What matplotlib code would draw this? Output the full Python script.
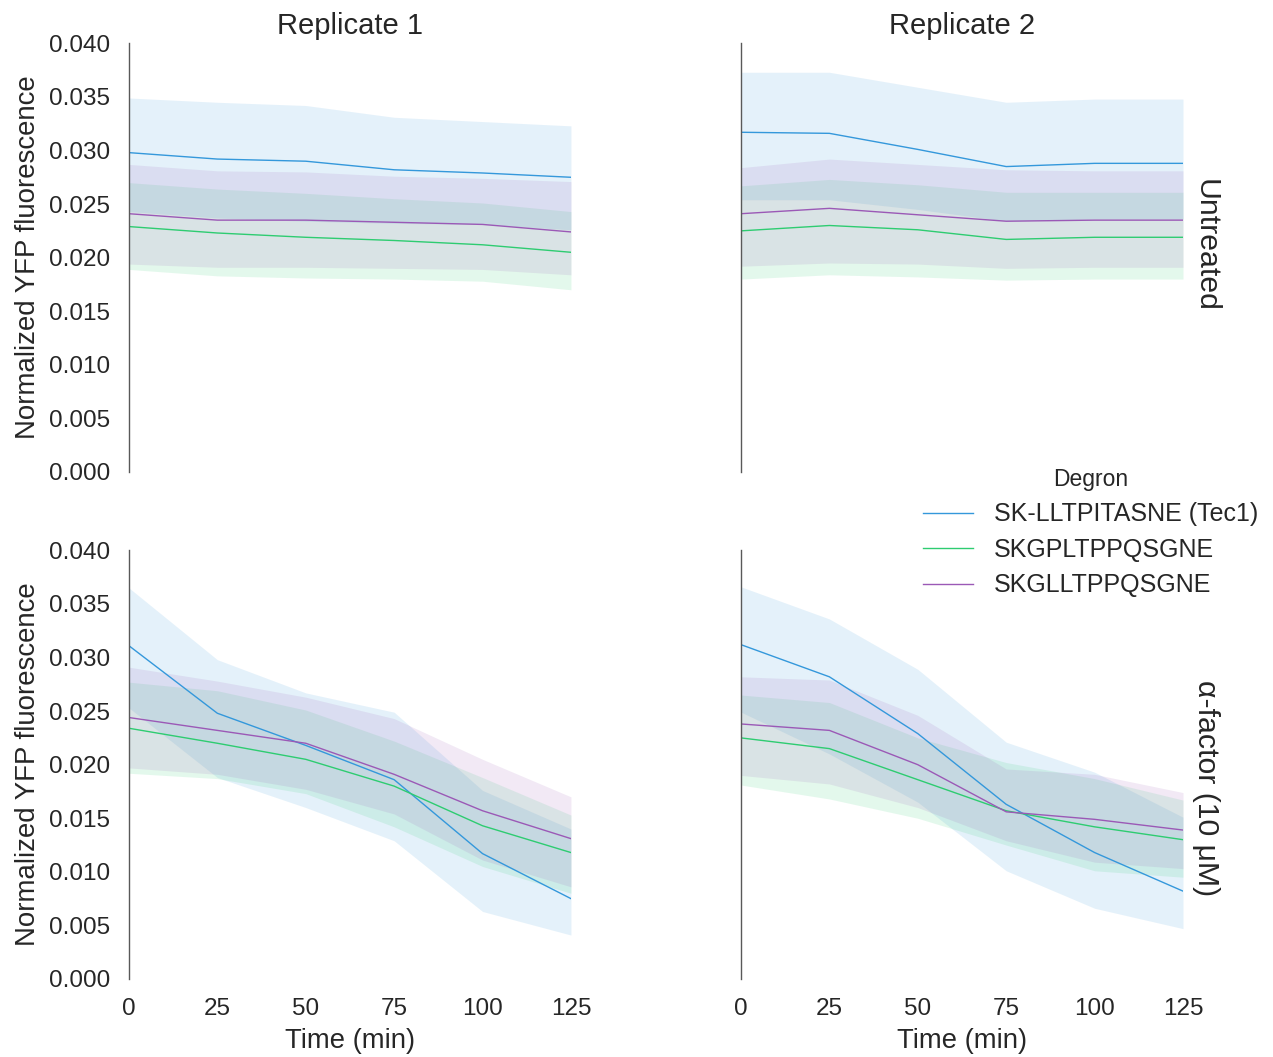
import matplotlib
matplotlib.use("Agg")
import matplotlib.pyplot as plt

plt.rcParams['font.family'] = ['Liberation Sans', 'DejaVu Sans']
plt.rcParams['text.color'] = '0.15'
plt.rcParams['axes.labelcolor'] = '0.15'
plt.rcParams['xtick.color'] = '0.15'
plt.rcParams['ytick.color'] = '0.15'

time = [0, 25, 50, 75, 100, 125]
degrons = ['SK-LLTPITASNE (Tec1)', 'SKGPLTPPQSGNE', 'SKGLLTPPQSGNE']
colors = ['#3498db', '#2ecc71', '#9b59b6']
replicates = ['Replicate 1', 'Replicate 2']
treatments = ['Untreated', 'α-factor (10 μM)']

# one row per degron (Tec1, SKGPLT..., SKGLLT...)
rep1_untr_mean = [[0.0298, 0.0292, 0.0290, 0.0282, 0.0279, 0.0275],
                  [0.0229, 0.0223, 0.0219, 0.0216, 0.0212, 0.0205],
                  [0.0241, 0.0235, 0.0235, 0.0233, 0.0231, 0.0224]]
rep1_untr_lo = [[0.0243, 0.0237, 0.0234, 0.0232, 0.0231, 0.0226],
                [0.0189, 0.0183, 0.0181, 0.0180, 0.0178, 0.0170],
                [0.0194, 0.0191, 0.0191, 0.0190, 0.0189, 0.0184]]
rep1_untr_hi = [[0.0349, 0.0345, 0.0342, 0.0331, 0.0327, 0.0323],
                [0.0270, 0.0264, 0.0260, 0.0255, 0.0251, 0.0243],
                [0.0287, 0.0281, 0.0280, 0.0276, 0.0274, 0.0271]]

rep2_untr_mean = [[0.0317, 0.0316, 0.0301, 0.0285, 0.0288, 0.0288],
                  [0.0225, 0.0230, 0.0226, 0.0217, 0.0219, 0.0219],
                  [0.0241, 0.0246, 0.0240, 0.0234, 0.0235, 0.0235]]
rep2_untr_lo = [[0.0254, 0.0254, 0.0245, 0.0234, 0.0236, 0.0236],
                [0.0180, 0.0184, 0.0182, 0.0179, 0.0180, 0.0180],
                [0.0192, 0.0195, 0.0194, 0.0190, 0.0191, 0.0191]]
rep2_untr_hi = [[0.0373, 0.0373, 0.0359, 0.0345, 0.0348, 0.0348],
                [0.0267, 0.0273, 0.0268, 0.0261, 0.0261, 0.0261],
                [0.0284, 0.0292, 0.0287, 0.0282, 0.0281, 0.0281]]

rep1_alpha_mean = [[0.0311, 0.0248, 0.0218, 0.0186, 0.0117, 0.0075],
                   [0.0234, 0.0220, 0.0205, 0.0180, 0.0143, 0.0118],
                   [0.0244, 0.0232, 0.0220, 0.0191, 0.0157, 0.0131]]
rep1_alpha_lo = [[0.0253, 0.0188, 0.0160, 0.0129, 0.0063, 0.0041],
                 [0.0192, 0.0187, 0.0173, 0.0142, 0.0105, 0.0080],
                 [0.0197, 0.0191, 0.0177, 0.0154, 0.0111, 0.0086]]
rep1_alpha_hi = [[0.0365, 0.0298, 0.0267, 0.0249, 0.0176, 0.0140],
                 [0.0277, 0.0269, 0.0251, 0.0222, 0.0188, 0.0153],
                 [0.0291, 0.0278, 0.0263, 0.0243, 0.0205, 0.0170]]

rep2_alpha_mean = [[0.0312, 0.0282, 0.0229, 0.0163, 0.0118, 0.0082],
                   [0.0225, 0.0215, 0.0186, 0.0157, 0.0142, 0.0130],
                   [0.0238, 0.0232, 0.0200, 0.0156, 0.0149, 0.0139]]
rep2_alpha_lo = [[0.0249, 0.0210, 0.0165, 0.0101, 0.0066, 0.0047],
                 [0.0181, 0.0168, 0.0150, 0.0125, 0.0101, 0.0095],
                 [0.0190, 0.0182, 0.0160, 0.0129, 0.0109, 0.0103]]
rep2_alpha_hi = [[0.0366, 0.0336, 0.0289, 0.0221, 0.0193, 0.0151],
                 [0.0265, 0.0258, 0.0225, 0.0202, 0.0187, 0.0167],
                 [0.0282, 0.0279, 0.0246, 0.0196, 0.0191, 0.0174]]

panels = [[(rep1_untr_mean, rep1_untr_lo, rep1_untr_hi),
           (rep2_untr_mean, rep2_untr_lo, rep2_untr_hi)],
          [(rep1_alpha_mean, rep1_alpha_lo, rep1_alpha_hi),
           (rep2_alpha_mean, rep2_alpha_lo, rep2_alpha_hi)]]

fig = plt.figure(figsize=(12.73, 10.57), dpi=100)
lefts = [0.1013, 0.5821]
bottoms = [0.5535, 0.0738]
width, height = 0.3472, 0.4055
row_title_y = [0.528, 0.4465]

for r in range(2):
    for c in range(2):
        ax = fig.add_axes([lefts[c], bottoms[r], width, height])
        mean, lo, hi = panels[r][c]
        for i, name in enumerate(degrons):
            ax.fill_between(time, lo[i], hi[i], color=colors[i], alpha=0.13, lw=0)
            ax.plot(time, mean[i], color=colors[i], lw=1.0, label=name)
        ax.set_xlim(0, 125)
        ax.set_ylim(0, 0.04)
        ax.set_yticks([0.000, 0.005, 0.010, 0.015, 0.020, 0.025, 0.030, 0.035, 0.040])
        ax.set_xticks(time)
        ax.tick_params(length=0, pad=13.5, labelsize=17.5)
        for s in ['top', 'right', 'bottom']:
            ax.spines[s].set_visible(False)
        ax.spines['left'].set_color('0.35')
        ax.spines['left'].set_linewidth(1.0)
        if c == 0:
            ax.set_ylabel('Normalized YFP fluorescence', fontsize=19.9, labelpad=6)
        else:
            ax.set_yticklabels([])
            ax.text(1.02, row_title_y[r], treatments[r], transform=ax.transAxes,
                    rotation=270, ha='left', va='center', fontsize=21.8)
        if r == 0:
            ax.set_xticklabels([])
            ax.set_title(replicates[c], fontsize=21, pad=6.5)
        else:
            ax.set_xlabel('Time (min)', fontsize=19.8, labelpad=6)
        if r == 1 and c == 1:
            handles, labels = ax.get_legend_handles_labels()

fig.legend(handles, labels, title='Degron', loc='center left',
           bbox_to_anchor=(0.707, 0.4962), frameon=False, fontsize=18,
           title_fontsize=16.5, handlelength=2.0, handletextpad=0.85,
           labelspacing=0.46)

fig.savefig('out.png', dpi=100)
